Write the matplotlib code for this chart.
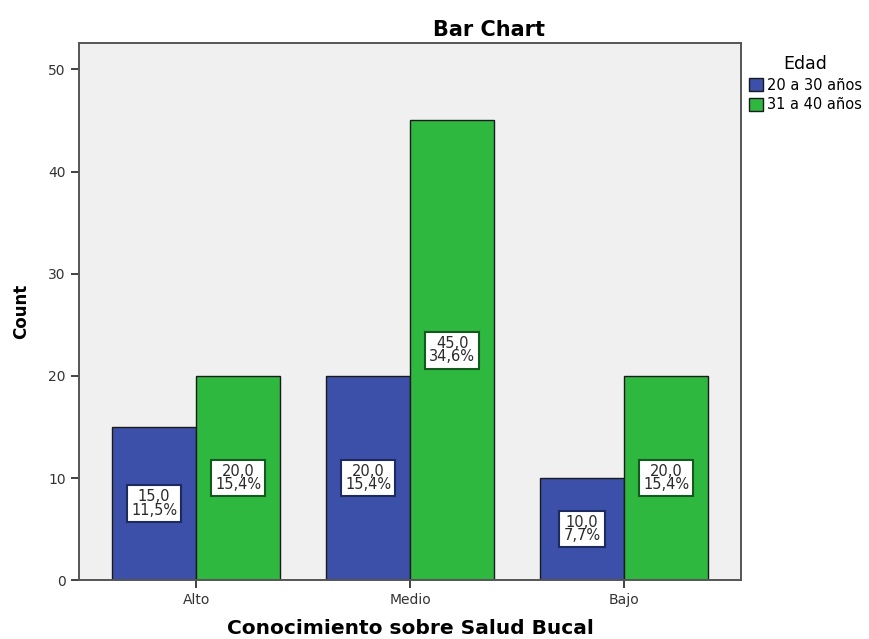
import numpy as np
import matplotlib.pyplot as plt

plt.rcParams['font.family'] = ['DejaVu Sans']

# data
categorias = ["Alto", "Medio", "Bajo"]
edad_20_30 = [15, 20, 10]
edad_31_40 = [20, 45, 20]
pct_20_30 = ["11,5%", "15,4%", "7,7%"]
pct_31_40 = ["15,4%", "34,6%", "15,4%"]

azul = "#3C50AA"
verde = "#2EB840"

fig = plt.figure(figsize=(8.69, 6.39), dpi=100)
ax = fig.add_axes([0.091, 0.092, 0.762, 0.841])
ax.set_facecolor("#F0F0F0")

x = np.arange(len(categorias))
w = 0.393
b1 = ax.bar(x - w / 2, edad_20_30, w, color=azul, edgecolor="#1a1a1a", linewidth=1.0, label="20 a 30 años")
b2 = ax.bar(x + w / 2, edad_31_40, w, color=verde, edgecolor="#1a1a1a", linewidth=1.0, label="31 a 40 años")

# value labels in the middle of each bar
for bars, vals, pcts, borde in [(b1, edad_20_30, pct_20_30, "#1c2a60"), (b2, edad_31_40, pct_31_40, "#145a1e")]:
    for rect, v, p in zip(bars, vals, pcts):
        cx = rect.get_x() + rect.get_width() / 2
        ax.text(cx, v / 2, f"{v},0\n{p}", ha="center", va="center", fontsize=10.5,
                color="#2a2a2a", linespacing=0.85,
                bbox=dict(boxstyle="square,pad=0.28", facecolor="white", edgecolor=borde, linewidth=1.5))

ax.set_xlim(-0.547, 2.547)
ax.set_ylim(0, 52.6)
ax.set_yticks([0, 10, 20, 30, 40, 50])
ax.set_xticks(x)
ax.set_xticklabels(categorias)
ax.tick_params(axis="both", direction="out", length=6, width=1.3, color="#333333", labelsize=10, labelcolor="#333333")
for s in ax.spines.values():
    s.set_color("#555555")
    s.set_linewidth(1.4)

ax.set_title("Bar Chart", fontsize=15, fontweight="bold", x=0.619, pad=5)
ax.set_ylabel("Count", fontsize=12, fontweight="bold", labelpad=13)
ax.set_xlabel("Conocimiento sobre Salud Bucal", fontsize=14.5, fontweight="bold", labelpad=8)

leg = ax.legend(title="Edad", loc="upper left", bbox_to_anchor=(1.0, 0.99), frameon=False,
                fontsize=10.5, title_fontsize=12.5, handlelength=1.0, handleheight=1.0,
                handletextpad=0.25, labelspacing=0.3, borderaxespad=0.1)

fig.savefig("out.png", dpi=100)
